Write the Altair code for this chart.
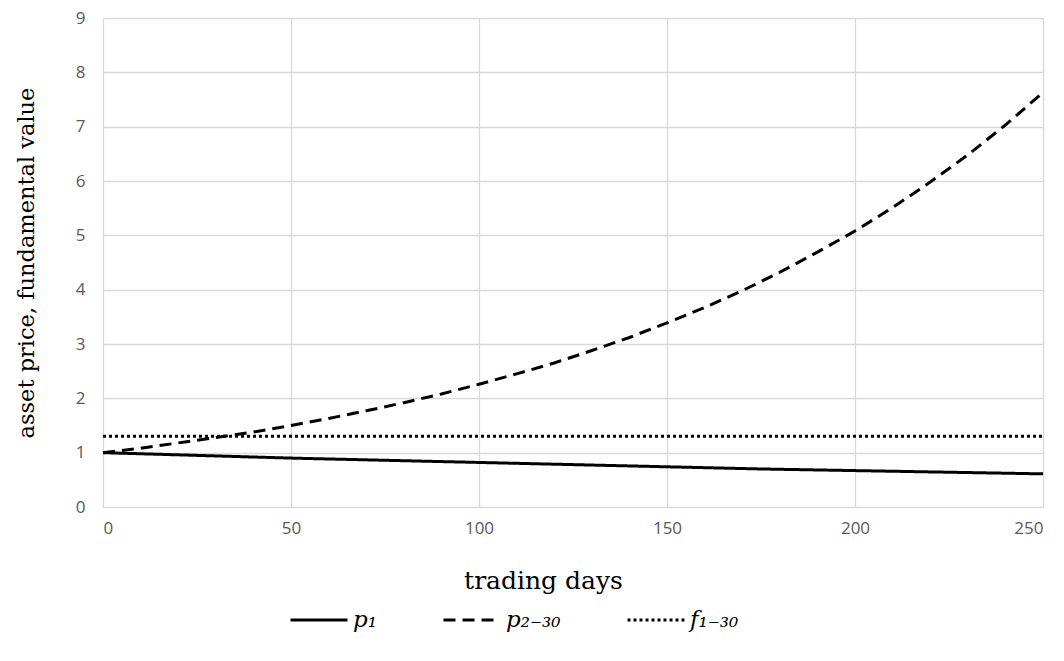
import altair as alt
import pandas as pd

# trading days and series values
days_p2 = [0, 10, 20, 30, 40, 50, 60, 70, 80, 90, 100, 110, 120, 130, 140, 150,
           160, 170, 180, 190, 200, 210, 220, 230, 240, 250]
p2_30 = [1.00, 1.08, 1.18, 1.28, 1.38, 1.50, 1.63, 1.77, 1.92, 2.08, 2.26, 2.45,
         2.65, 2.88, 3.12, 3.39, 3.67, 3.98, 4.32, 4.69, 5.08, 5.51, 5.98, 6.48,
         7.03, 7.63]

days_p1 = [0, 25, 50, 75, 100, 125, 150, 175, 200, 225, 250]
p1 = [1.00, 0.95, 0.90, 0.86, 0.82, 0.78, 0.74, 0.70, 0.67, 0.64, 0.61]

days_f = [0, 250]
f1_30 = [1.30, 1.30]

series_names = ["p₁", "p₂₋₃₀", "f₁₋₃₀"]
dash_styles = [[1, 0], [12, 7], [3, 3]]

rows = []
for d, v in zip(days_p1, p1):
    rows.append({"day": d, "value": v, "series": series_names[0]})
for d, v in zip(days_p2, p2_30):
    rows.append({"day": d, "value": v, "series": series_names[1]})
for d, v in zip(days_f, f1_30):
    rows.append({"day": d, "value": v, "series": series_names[2]})
df = pd.DataFrame(rows)

chart = alt.Chart(df).mark_line(color="black", strokeWidth=3).encode(
    x=alt.X("day:Q", title="trading days",
            scale=alt.Scale(domain=[0, 250], nice=False),
            axis=alt.Axis(values=[0, 50, 100, 150, 200, 250], format="d")),
    y=alt.Y("value:Q", title="asset price, fundamental value",
            scale=alt.Scale(domain=[0, 9], nice=False),
            axis=alt.Axis(values=list(range(0, 10)))),
    strokeDash=alt.StrokeDash("series:N",
                              scale=alt.Scale(domain=series_names, range=dash_styles),
                              legend=alt.Legend(title=None, orient="none",
                                                direction="horizontal",
                                                legendX=186, legendY=572)),
    detail="series:N",
).properties(
    width=940, height=489,
    autosize=alt.AutoSizeParams(type="none"),
    padding={"left": 95, "top": 10, "right": 10, "bottom": 130},
).configure_view(stroke=None).configure_axis(
    grid=True, gridColor="#d9d9d9", gridWidth=1.3, domain=False, ticks=False,
    labelFont="Open Sans", labelFontSize=17, labelColor="#595959",
    titleFont="DejaVu Serif", titleFontWeight="normal",
    titleColor="black",
).configure_axisX(
    labelPadding=13, titlePadding=32, titleFontSize=25, titleX=440,
    titleAlign="center",
).configure_axisY(
    labelPadding=18, titlePadding=37, titleFontSize=22.5,
).configure_legend(
    symbolType="stroke", symbolSize=3249, symbolStrokeWidth=3,
    symbolStrokeColor="black", labelFont="DejaVu Serif", labelFontStyle="italic",
    labelFontSize=23, labelColor="black", columnPadding=60, padding=0,
    labelOffset=4,
)

chart.save("out.html", embed_options={"renderer": "svg", "actions": False})
